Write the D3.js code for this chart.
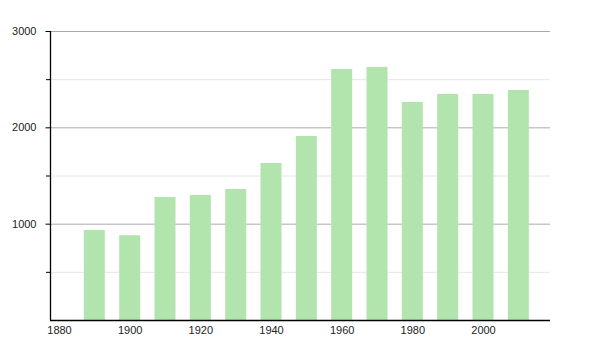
<!DOCTYPE html>
<html>
<head>
<meta charset="utf-8">
<script src="https://cdn.jsdelivr.net/npm/d3@7"></script>
<style>
  body { margin: 0; background: #fff; }
  text { font-family: "Liberation Sans", Arial, sans-serif; font-size: 11px; fill: #222; }
</style>
</head>
<body>
<div id="chart"></div>
<script>
const years = [1890, 1900, 1910, 1920, 1930, 1940, 1950, 1960, 1970, 1980, 1990, 2000, 2010];
const population = [934, 880, 1277, 1298, 1360, 1630, 1911, 2606, 2627, 2264, 2347, 2347, 2388];
const xTicks = [1880, 1900, 1920, 1940, 1960, 1980, 2000];
const yMajor = [1000, 2000, 3000];
const yMinor = [500, 1500, 2500];

const width = 600, height = 350;
const plot = { left: 50, right: 550, top: 31, bottom: 320 };

const svg = d3.select("#chart").append("svg")
  .attr("width", width)
  .attr("height", height);

const x = d3.scaleLinear()
  .domain([1880, 2000])
  .range([59, 483]);

const y = d3.scaleLinear()
  .domain([0, 3000])
  .range([plot.bottom, plot.top]);

const barW = 21;

// grid lines
svg.append("g")
  .selectAll("line")
  .data(yMinor)
  .join("line")
    .attr("x1", plot.left).attr("x2", plot.right)
    .attr("y1", d => y(d) + 0.5).attr("y2", d => y(d) + 0.5)
    .attr("stroke", "#e6e6e6");

svg.append("g")
  .selectAll("line")
  .data(yMajor)
  .join("line")
    .attr("x1", plot.left).attr("x2", plot.right)
    .attr("y1", d => y(d) + 0.5).attr("y2", d => y(d) + 0.5)
    .attr("stroke", "#aaa");

// bars
svg.append("g")
  .selectAll("rect")
  .data(years)
  .join("rect")
    .attr("x", (d) => x(d) - barW / 2)
    .attr("y", (d, i) => y(population[i]))
    .attr("width", barW)
    .attr("height", (d, i) => y(0) - y(population[i]))
    .attr("fill", "#b2e5ae");

// y axis
const yAxis = svg.append("g")
  .attr("transform", `translate(${plot.left + 0.5},0)`)
  .call(d3.axisLeft(y).tickValues(yMajor).tickSize(5).tickPadding(9).tickFormat(d3.format("d")));
yAxis.select(".domain").attr("d", `M0,${plot.top}V${plot.bottom}`).attr("stroke", "#000").attr("stroke-width", 1.3);
yAxis.selectAll(".tick line").attr("stroke", "#000");

svg.append("g")
  .selectAll("line")
  .data(yMinor)
  .join("line")
    .attr("x1", plot.left - 4).attr("x2", plot.left)
    .attr("y1", d => y(d) + 0.5).attr("y2", d => y(d) + 0.5)
    .attr("stroke", "#000");

// x axis
const xAxis = svg.append("g")
  .attr("transform", `translate(0,${plot.bottom + 0.5})`)
  .call(d3.axisBottom(x).tickValues(xTicks).tickSize(0).tickPadding(6).tickFormat(d3.format("d")));
xAxis.select(".domain").attr("d", `M${plot.left},0H${plot.right}`).attr("stroke", "#000").attr("stroke-width", 1.3);
</script>
</body>
</html>
